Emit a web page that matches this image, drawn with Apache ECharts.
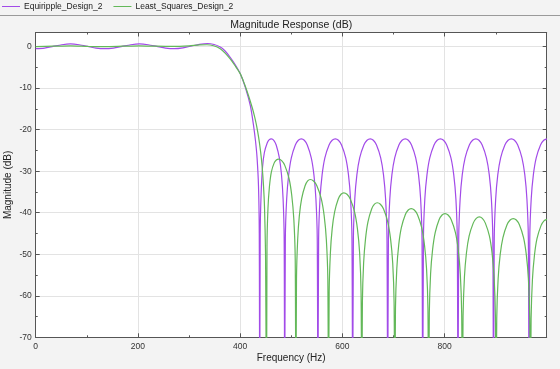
<!DOCTYPE html>
<html>
<head>
<meta charset="utf-8">
<script src="https://cdn.jsdelivr.net/npm/echarts@6/dist/echarts.min.js"></script>
<style>
html,body{margin:0;padding:0;background:#f3f3f3;}
#c{width:560px;height:369px;}
</style>
</head>
<body>
<div id="c"></div>
<script>
// ---- data (frequency in Hz, magnitude in dB) ----
const seriesNames = ['Equiripple_Design_2', 'Least_Squares_Design_2'];
const titleText = 'Magnitude Response (dB)';
const xName = 'Frequency (Hz)';
const yName = 'Magnitude (dB)';

const equiPassband = [[0,-0.5],[17,-0.35],[34,0.05],[51,0.45],[68,0.65],[85,0.45],[102,0.05],[118,-0.35],[135,-0.5],[152,-0.35],[169,0.05],[186,0.45],[203,0.65],[220,0.45],[237,0.05],[254,-0.35],[271,-0.5],[288,-0.3],[305,0.15],[320,0.55],[336,0.75],[349,0.5],[361,-0.1],[370,-1.0],[380,-2.5],[390,-4.3],[400,-6.5],[410,-9.8],[420,-14.3],[426,-18.9],[430,-22.8],[433,-26.8],[435.8,-33.6],[437.3,-45],[438.2,-90]];
const equiStopband = [
[439.1,-45],[440.9,-35.5],[443.7,-29],[447.3,-25.5],[452.8,-23.2],[456.9,-22.4],[461,-22.2],[465.7,-22.55],[470.4,-23.7],[476.6,-26.8],[480.8,-30.9],[483.9,-36.7],[486,-46.2],[487,-90],
[488.3,-46.2],[490.9,-36.7],[494.8,-30.9],[500,-26.8],[507.8,-23.7],[513.7,-22.55],[519.5,-22.2],[525.4,-22.55],[531.2,-23.7],[539,-26.8],[544.2,-30.9],[548.1,-36.7],[550.7,-46.2],[552,-90],
[553.4,-46.2],[556.1,-36.7],[560.2,-30.9],[565.6,-26.8],[573.8,-23.7],[579.9,-22.55],[586,-22.2],[592.1,-22.55],[598.2,-23.7],[606.4,-26.8],[611.8,-30.9],[615.9,-36.7],[618.6,-46.2],[620,-90],
[621.4,-46.2],[624.1,-36.7],[628.2,-30.9],[633.7,-26.8],[641.9,-23.7],[648.1,-22.55],[654.3,-22.2],[660.4,-22.55],[666.6,-23.7],[674.8,-26.8],[680.3,-30.9],[684.4,-36.7],[687.1,-46.2],[688.5,-90],
[689.9,-46.2],[692.6,-36.7],[696.7,-30.9],[702.2,-26.8],[710.4,-23.7],[716.6,-22.55],[722.8,-22.2],[728.9,-22.55],[735.1,-23.7],[743.3,-26.8],[748.8,-30.9],[752.9,-36.7],[755.6,-46.2],[757,-90],
[758.4,-46.2],[761.1,-36.7],[765.3,-30.9],[770.8,-26.8],[779.1,-23.7],[785.3,-22.55],[791.5,-22.2],[797.7,-22.55],[803.9,-23.7],[812.2,-26.8],[817.7,-30.9],[821.9,-36.7],[824.6,-46.2],[826,-90],
[827.4,-46.2],[830.2,-36.7],[834.3,-30.9],[839.9,-26.8],[848.2,-23.7],[854.5,-22.55],[860.8,-22.2],[867,-22.55],[873.3,-23.7],[881.6,-26.8],[887.2,-30.9],[891.3,-36.7],[894.1,-46.2],[895.5,-90],
[896.9,-46.2],[899.7,-36.7],[903.8,-30.9],[909.4,-26.8],[917.7,-23.7],[924,-22.55],[930.3,-22.2],[936.5,-22.55],[942.8,-23.7],[951.1,-26.8],[956.7,-30.9],[960.8,-36.7],[963.6,-46.2],[965,-90],
[966.4,-46.2],[969.2,-36.7],[973.4,-30.9],[979,-26.8],[987.4,-23.7],[993.7,-22.55],[1000,-22.2]];

const lsPassband = [[0,0.0],[34,0.1],[68,0.2],[102,0.05],[135,0.0],[170,0.1],[203,0.2],[237,0.1],[270,0.05],[300,0.2],[320,0.4],[335,0.45],[348,0.2],[361,-0.5],[370,-1.5],[380,-2.9],[390,-4.6],[400,-6.5],[408,-8.9],[416,-11.7],[424,-14.9],[428,-16.8],[432,-19.0],[436,-21.8],[440,-25.4],[443,-29],[445.6,-33.6],[447.5,-38.5],[449.5,-49.6],[451.5,-90]];
const lsStopband = [
[452.4,-48],[454.3,-39],[457.1,-33.8],[460.9,-30.2],[466.5,-28.0],[470.7,-27.3],[475,-27.1],[481.1,-27.45],[487.2,-28.6],[495.4,-31.7],[500.8,-35.8],[504.9,-41.6],[507.6,-51.1],[509,-90],
[510.1,-56.0],[512.4,-46.5],[515.7,-40.7],[520.2,-36.6],[526.9,-33.5],[532,-32.35],[537,-32.0],[543.4,-32.35],[549.9,-33.5],[558.5,-36.6],[564.2,-40.7],[568.5,-46.5],[571.4,-56.0],[572.8,-90],
[574,-59.2],[576.4,-49.7],[579.9,-43.9],[584.7,-39.8],[591.8,-36.7],[597.2,-35.55],[602.5,-35.2],[608.9,-35.55],[615.2,-36.7],[623.7,-39.8],[629.3,-43.9],[633.6,-49.7],[636.4,-59.2],[637.8,-90],
[639,-61.6],[641.4,-52.1],[645.1,-46.3],[649.9,-42.2],[657.1,-39.1],[662.6,-37.95],[668,-37.6],[674.2,-37.95],[680.4,-39.1],[688.6,-42.2],[694.1,-46.3],[698.3,-52.1],[701,-61.6],[702.4,-90],
[703.7,-63.0],[706.3,-53.5],[710.1,-47.7],[715.2,-43.6],[722.9,-40.5],[728.7,-39.35],[734.5,-39.0],[740.6,-39.35],[746.8,-40.5],[755,-43.6],[760.4,-47.7],[764.5,-53.5],[767.2,-63.0],[768.6,-90],
[769.9,-64.2],[772.4,-54.7],[776.3,-48.9],[781.4,-44.8],[789,-41.7],[794.8,-40.55],[800.5,-40.2],[806.6,-40.55],[812.8,-41.7],[821,-44.8],[826.4,-48.9],[830.5,-54.7],[833.2,-64.2],[834.6,-90],
[835.9,-65.0],[838.6,-55.5],[842.5,-49.7],[847.8,-45.6],[855.8,-42.5],[861.7,-41.35],[867.7,-41.0],[873.6,-41.35],[879.5,-42.5],[887.4,-45.6],[892.6,-49.7],[896.6,-55.5],[899.2,-65.0],[900.5,-90],
[901.8,-65.4],[904.5,-55.9],[908.5,-50.1],[913.9,-46.0],[921.9,-42.9],[928,-41.75],[934,-41.4],[940.1,-41.75],[946.1,-42.9],[954.2,-46.0],[959.6,-50.1],[963.7,-55.9],[966.4,-65.4],[967.7,-90],
[969,-65.6],[971.6,-56.1],[975.5,-50.3],[980.6,-46.2],[988.4,-43.1],[994.2,-41.95],[1000,-41.6]];

const xTicks = { min: 0, max: 999.5, interval: 200 };
const yTicks = { min: -70, max: 3.4, interval: 10 };

// ---- chart ----
const FONT = '"Liberation Sans", Arial, Helvetica, sans-serif';
const chart = echarts.init(document.getElementById('c'), null, { renderer: 'canvas' });
const gridL = 35.7, gridR = 13.3, gridT = 32.5, gridB = 31.7;
const plotCx = gridL + (560 - gridL - gridR) / 2;

function sideAxis(base, pos) {
  return Object.assign({}, base, {
    position: pos,
    axisLabel: { show: false },
    splitLine: { show: false },
    name: ''
  });
}

const xBase = {
  type: 'value', min: xTicks.min, max: xTicks.max, interval: xTicks.interval,
  axisLine: { show: true, onZero: false, lineStyle: { color: '#555', width: 1 } },
  axisTick: { show: true, inside: true, length: 4, lineStyle: { color: '#555' } },
  minorTick: { show: true, splitNumber: 2, length: 2, lineStyle: { color: '#555' } },
  splitLine: { show: true, lineStyle: { color: '#e3e3e3', width: 1 } },
  axisLabel: { color: '#333', fontSize: 8.5, fontFamily: FONT, margin: 5, showMaxLabel: false }
};
const yBase = {
  type: 'value', min: yTicks.min, max: yTicks.max, interval: yTicks.interval,
  axisLine: { show: true, onZero: false, lineStyle: { color: '#555', width: 1 } },
  axisTick: { show: true, inside: true, length: 4, lineStyle: { color: '#555' } },
  minorTick: { show: true, splitNumber: 2, length: 2, lineStyle: { color: '#555' } },
  splitLine: { show: true, lineStyle: { color: '#e3e3e3', width: 1 } },
  axisLabel: { color: '#333', fontSize: 8.5, fontFamily: FONT, margin: 4, showMaxLabel: false }
};

chart.setOption({
  animation: false,
  backgroundColor: '#f3f3f3',
  textStyle: { fontFamily: FONT },
  grid: { left: gridL, right: gridR, top: gridT, bottom: gridB, containLabel: false, outerBoundsMode: 'none', show: true, backgroundColor: '#ffffff', borderColor: '#555', borderWidth: 0 },
  legend: {
    left: 2, top: 2, padding: 0, itemGap: 11, itemWidth: 18, itemHeight: 1,
    icon: 'rect',
    textStyle: { fontSize: 8.5, color: '#222', fontFamily: FONT, padding: [0, 0, 0, -1] },
    data: seriesNames
  },
  graphic: [
    { type: 'line', shape: { x1: 0, y1: 15.5, x2: 560, y2: 15.5 }, style: { stroke: '#9a9a9a', lineWidth: 1 }, silent: true },
    { type: 'text', x: plotCx, y: 25, style: { text: titleText, align: 'center', verticalAlign: 'middle', font: '10.5px ' + FONT, fill: '#222' }, silent: true }
  ],
  xAxis: [
    Object.assign({}, xBase, { position: 'bottom', name: xName, nameLocation: 'middle', nameGap: 16, nameMoveOverlap: false, nameTextStyle: { fontSize: 10, color: '#222', fontFamily: FONT } }),
    sideAxis(xBase, 'top')
  ],
  yAxis: [
    Object.assign({}, yBase, { position: 'left', name: yName, nameLocation: 'middle', nameGap: 22, nameMoveOverlap: false, nameTextStyle: { fontSize: 10, color: '#222', fontFamily: FONT } }),
    sideAxis(yBase, 'right')
  ],
  series: [
    { name: seriesNames[0], type: 'line', data: equiPassband.concat(equiStopband), showSymbol: false, smooth: 0.25, clip: true, color: '#a24be8', lineStyle: { width: 1.2, color: '#a24be8' } },
    { name: seriesNames[1], type: 'line', data: lsPassband.concat(lsStopband), showSymbol: false, smooth: 0.25, clip: true, color: '#63b859', lineStyle: { width: 1.2, color: '#63b859' } }
  ]
});
</script>
</body>
</html>
